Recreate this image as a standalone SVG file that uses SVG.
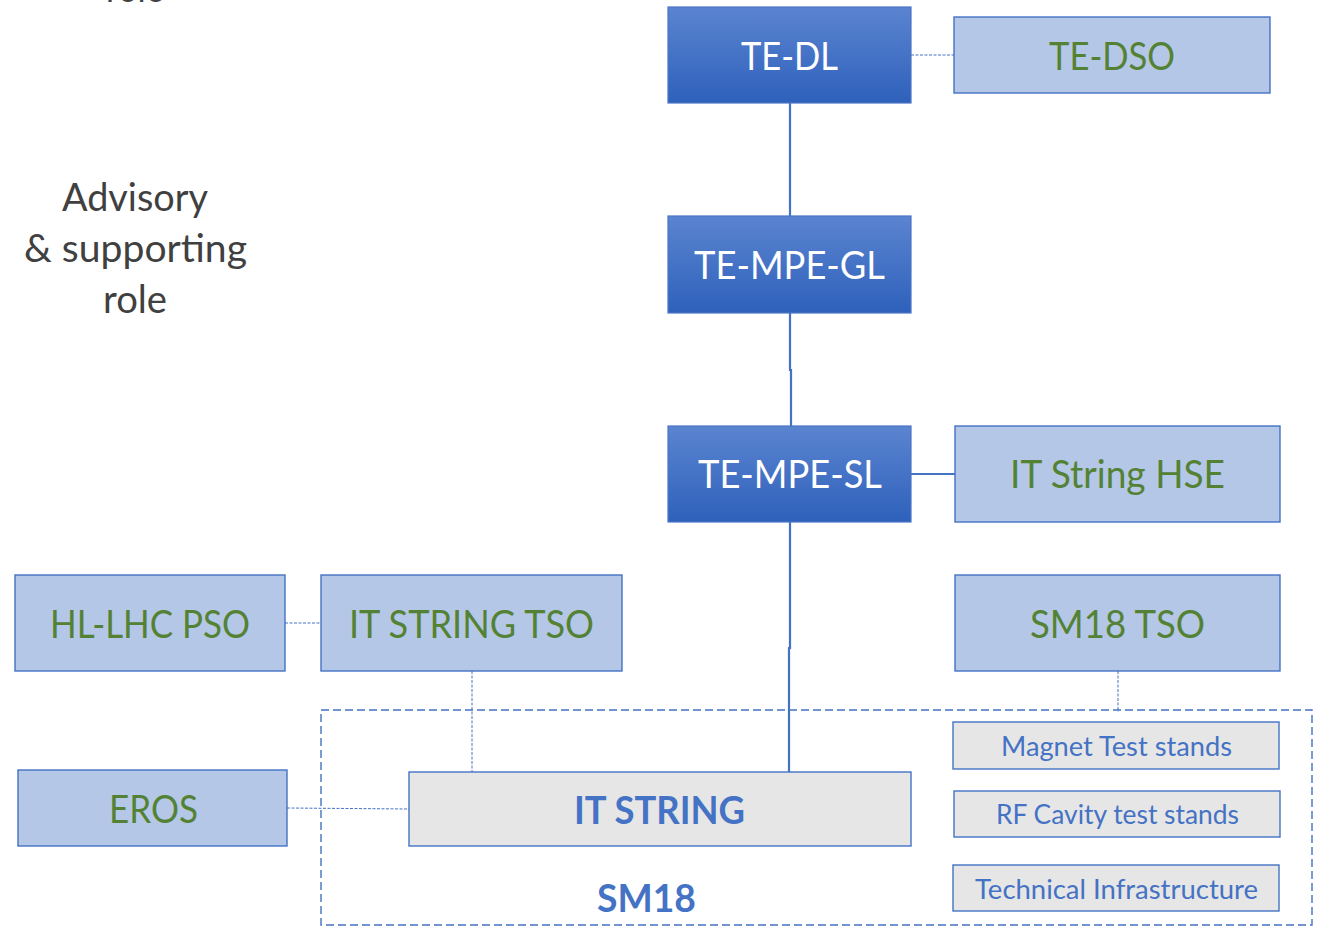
<svg xmlns="http://www.w3.org/2000/svg" width="1319" height="927" viewBox="0 0 1319 927">
  <defs>
    <linearGradient id="darkFill" x1="0" y1="0" x2="0" y2="1">
      <stop offset="0" stop-color="#5b84d0"/>
      <stop offset="1" stop-color="#2e61bb"/>
    </linearGradient>
    <style>
      text { font-family: Lato, "Open Sans", "Liberation Sans", sans-serif; text-anchor: middle; }
      .dark rect { fill: url(#darkFill); stroke: #4a76c6; stroke-width: 1.2; }
      .dark text { fill: #ffffff; font-size: 38px; }
      .light rect { fill: #b4c7e7; stroke: #4472c4; stroke-width: 1.4; }
      .light text { fill: #548235; font-size: 38px; }
      .grey rect { fill: #e7e6e6; stroke: #4472c4; stroke-width: 1.4; }
      .grey text { fill: #4472c4; font-size: 26px; }
      .grey text.title, .title { fill: #4472c4; font-size: 38px; font-weight: 700; }
      .note { fill: #404040; font-size: 38px; }
      .solid { fill: none; stroke: #4472c4; stroke-width: 2.2; }
      .dotted { fill: none; stroke: #4472c4; stroke-width: 1; stroke-dasharray: 3 1.5; }
      .frame { fill: none; stroke: #4472c4; stroke-width: 1.4; stroke-dasharray: 8 4; }
    </style>
  </defs>

  <rect width="1319" height="927" fill="#ffffff"/>

  <!-- side caption (the first line runs off the top edge) -->
  <g id="caption">
    <text class="note" x="135" y="2" textLength="58" lengthAdjust="spacingAndGlyphs">role</text>
    <text class="note" x="135" y="211" textLength="146" lengthAdjust="spacingAndGlyphs">Advisory</text>
    <text class="note" x="135.5" y="262" textLength="223" lengthAdjust="spacingAndGlyphs">&amp; supporting</text>
    <text class="note" x="135" y="313" textLength="64" lengthAdjust="spacingAndGlyphs">role</text>
  </g>

  <!-- SM18 area frame -->
  <g id="sm18-area">
    <rect class="frame" x="321" y="710" width="991" height="215"/>
    <text class="title" x="646.5" y="912" textLength="99" lengthAdjust="spacingAndGlyphs">SM18</text>
  </g>

  <!-- connectors -->
  <g id="connectors">
    <path class="solid" d="M790 103 V216"/>
    <path class="solid" d="M790 313 V370 H791 V426"/>
    <path class="solid" d="M790 522 V648 H789 V772"/>
    <path class="solid" d="M911 474 H955"/>
    <path class="dotted" d="M911 55 H954"/>
    <path class="dotted" d="M285 623 H321"/>
    <path class="dotted" d="M472 671 V772"/>
    <path class="dotted" d="M1118 671 V712"/>
    <path class="dotted" d="M287 808 L409 809"/>
  </g>

  <g id="te-dl" class="dark">
    <rect x="668" y="7" width="243" height="96"/>
    <text x="789.5" y="70" textLength="97" lengthAdjust="spacingAndGlyphs">TE-DL</text>
  </g>

  <g id="te-dso" class="light">
    <rect x="954" y="17" width="316" height="76"/>
    <text x="1112" y="70" textLength="126" lengthAdjust="spacingAndGlyphs">TE-DSO</text>
  </g>

  <g id="te-mpe-gl" class="dark">
    <rect x="668" y="216" width="243" height="97"/>
    <text x="789.5" y="279" textLength="191" lengthAdjust="spacingAndGlyphs">TE-MPE-GL</text>
  </g>

  <g id="te-mpe-sl" class="dark">
    <rect x="668" y="426" width="243" height="96"/>
    <text x="790" y="488" textLength="184" lengthAdjust="spacingAndGlyphs">TE-MPE-SL</text>
  </g>

  <g id="it-string-hse" class="light">
    <rect x="955" y="426" width="325" height="96"/>
    <text x="1117.5" y="488" textLength="215" lengthAdjust="spacingAndGlyphs">IT String HSE</text>
  </g>

  <g id="hl-lhc-pso" class="light">
    <rect x="15" y="575" width="270" height="96"/>
    <text x="150" y="638" textLength="200" lengthAdjust="spacingAndGlyphs">HL-LHC PSO</text>
  </g>

  <g id="it-string-tso" class="light">
    <rect x="321" y="575" width="301" height="96"/>
    <text x="471.5" y="638" textLength="245" lengthAdjust="spacingAndGlyphs">IT STRING TSO</text>
  </g>

  <g id="sm18-tso" class="light">
    <rect x="955" y="575" width="325" height="96"/>
    <text x="1117.5" y="638" textLength="175" lengthAdjust="spacingAndGlyphs">SM18 TSO</text>
  </g>

  <g id="eros" class="light">
    <rect x="18" y="770" width="269" height="76"/>
    <text x="153.5" y="823" textLength="89" lengthAdjust="spacingAndGlyphs">EROS</text>
  </g>

  <g id="it-string" class="grey">
    <rect x="409" y="772" width="502" height="74"/>
    <text class="title" x="659.5" y="824" textLength="171" lengthAdjust="spacingAndGlyphs">IT STRING</text>
  </g>

  <g id="magnet-test-stands" class="grey">
    <rect x="953" y="722" width="326" height="47"/>
    <text x="1116.5" y="756" textLength="231" lengthAdjust="spacingAndGlyphs">Magnet Test stands</text>
  </g>

  <g id="rf-cavity-test-stands" class="grey">
    <rect x="954" y="791" width="326" height="46"/>
    <text x="1117.5" y="824" textLength="243" lengthAdjust="spacingAndGlyphs">RF Cavity test stands</text>
  </g>

  <g id="technical-infrastructure" class="grey">
    <rect x="953" y="865" width="326" height="46"/>
    <text x="1116.5" y="899" textLength="283" lengthAdjust="spacingAndGlyphs">Technical Infrastructure</text>
  </g>
</svg>
